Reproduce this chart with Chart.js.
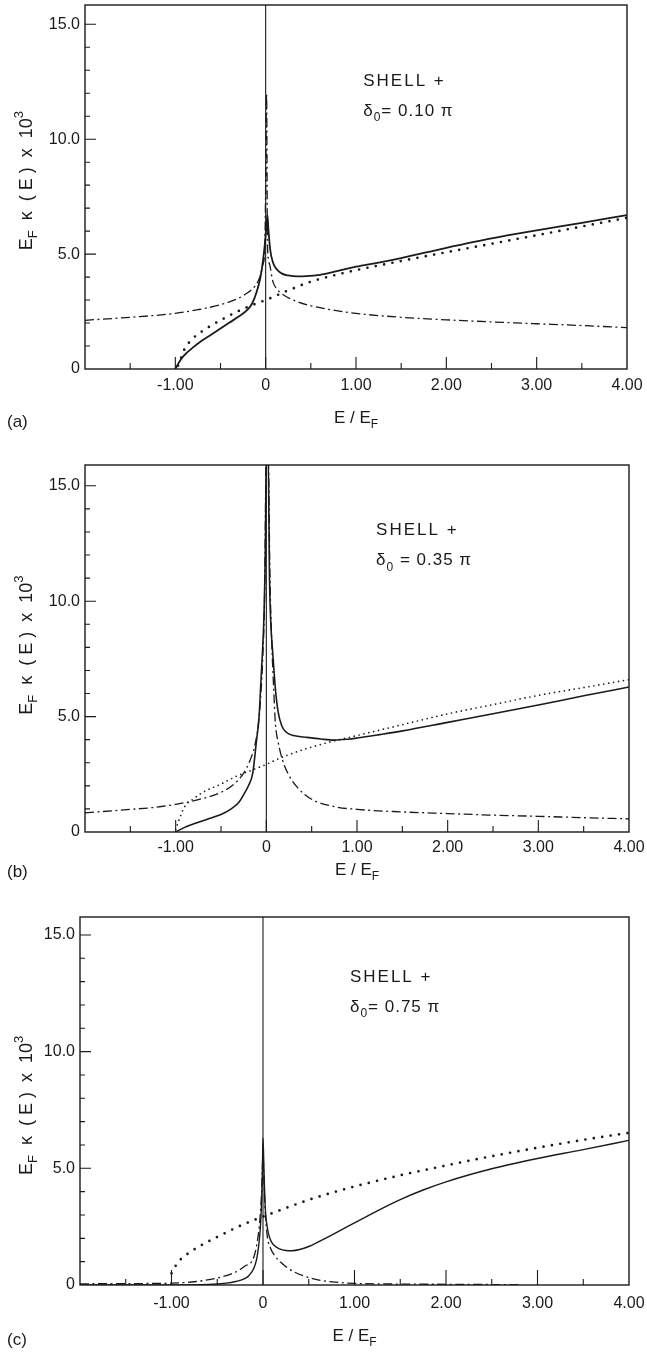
<!DOCTYPE html>
<html>
<head>
<meta charset="utf-8">
<script src="https://cdn.jsdelivr.net/npm/chart.js@4.4.1/dist/chart.umd.min.js"></script>
<style>
  html, body { margin: 0; padding: 0; background: #fff; }
  body { width: 647px; height: 1353px; position: relative; overflow: hidden; }
  .panel { position: absolute; left: 0; width: 647px; }
</style>
</head>
<body>
<div class="panel" style="top:0;height:445px"><canvas id="chartA"></canvas></div>
<div class="panel" style="top:445px;height:450px"><canvas id="chartB"></canvas></div>
<div class="panel" style="top:895px;height:458px"><canvas id="chartC"></canvas></div>
<script>
// tick labels, E/E_F from -2 to 4 and kappa from 0 to 15
const xTickLabels = ['', '-1.00', '0', '1.00', '2.00', '3.00', '4.00'];
const yTickLabels = ['0', '5.0', '10.0', '15.0'];

// vertical line at E = 0
const poleE = [0, 0];
const poleK = [0, 17];

// (a) delta0 = 0.10 pi
const solidA_E = [-1.00,-0.95,-0.90,-0.80,-0.70,-0.60,-0.50,-0.40,-0.30,-0.20,-0.15,-0.10,-0.06,-0.03,-0.01,0.01,0.02,0.03,0.05,0.08,0.12,0.18,0.25,0.35,0.45,0.60,0.80,1.00,1.25,1.50,1.75,2.00,2.50,3.00,3.50,4.00];
const solidA_K = [0.00,0.35,0.60,0.95,1.25,1.50,1.76,2.02,2.28,2.58,2.85,3.35,3.95,4.70,5.40,6.30,6.70,6.10,5.20,4.65,4.35,4.15,4.07,4.03,4.04,4.10,4.27,4.45,4.63,4.83,5.05,5.27,5.68,6.03,6.36,6.70];
const dottedA_E = [-0.97,-0.93,-0.90,-0.80,-0.70,-0.60,-0.50,-0.40,-0.30,-0.20,-0.10,0.00,0.25,0.50,0.75,1.00,1.50,2.00,2.50,3.00,3.50,4.00];
const dottedA_K = [0.15,0.55,0.85,1.35,1.65,1.90,2.12,2.33,2.52,2.70,2.86,3.00,3.42,3.80,4.07,4.30,4.70,5.08,5.45,5.82,6.20,6.58];
const dashA_E = [-2.00,-1.50,-1.00,-0.75,-0.50,-0.30,-0.20,-0.12,-0.06,-0.03,-0.01,0.00,0.01,0.02,0.04,0.08,0.12,0.20,0.35,0.50,0.75,1.00,1.50,2.00,2.50,3.00,3.50,4.00];
const dashA_K = [2.12,2.25,2.42,2.58,2.80,3.08,3.32,3.60,4.05,4.55,5.20,8.00,12.0,5.40,4.60,3.80,3.50,3.22,2.93,2.75,2.56,2.42,2.25,2.14,2.05,1.97,1.89,1.80];

// (b) delta0 = 0.35 pi
const solidB_E = [-1.00,-0.90,-0.75,-0.60,-0.50,-0.40,-0.30,-0.25,-0.20,-0.15,-0.11,-0.08,-0.06,-0.04,-0.025,-0.01,0.00,0.02,0.035,0.05,0.07,0.10,0.13,0.17,0.22,0.30,0.45,0.60,0.75,0.90,1.00,1.25,1.50,2.00,2.50,3.00,3.50,4.00];
const solidB_K = [0.00,0.20,0.42,0.62,0.76,0.97,1.30,1.62,1.98,2.55,3.90,5.00,6.50,8.00,9.50,12.5,16.5,16.5,11.0,9.00,7.80,6.20,5.20,4.60,4.32,4.18,4.10,4.03,3.98,4.02,4.07,4.22,4.38,4.75,5.12,5.50,5.90,6.28];
const dottedB_E = [-1.00,-0.97,-0.90,-0.80,-0.70,-0.50,-0.35,-0.20,-0.05,0.20,0.50,0.75,1.00,1.50,2.00,2.50,3.00,3.50,4.00];
const dottedB_K = [0.10,0.45,1.10,1.45,1.72,2.08,2.38,2.62,2.85,3.28,3.68,3.95,4.18,4.65,5.12,5.52,5.92,6.26,6.60];
const dashB_E = [-2.00,-1.50,-1.25,-1.00,-0.75,-0.50,-0.35,-0.25,-0.18,-0.13,-0.09,-0.06,-0.04,-0.02,0.00,0.02,0.04,0.06,0.08,0.10,0.13,0.18,0.25,0.35,0.50,0.75,1.00,1.50,2.00,2.50,3.00,3.50,4.00];
const dashB_K = [0.83,0.98,1.06,1.20,1.40,1.72,2.10,2.55,3.10,3.70,4.60,6.00,7.50,10.0,16.5,16.5,11.0,8.20,6.30,4.70,3.90,3.10,2.45,1.90,1.42,1.10,0.98,0.87,0.80,0.73,0.68,0.62,0.57];

// (c) delta0 = 0.75 pi
const solidC_E = [-2.00,-1.00,-0.60,-0.40,-0.30,-0.20,-0.15,-0.10,-0.07,-0.05,-0.03,-0.015,-0.005,0.00,0.01,0.025,0.05,0.08,0.12,0.18,0.25,0.32,0.40,0.50,0.60,0.75,1.00,1.25,1.50,1.75,2.00,2.50,3.00,3.50,4.00];
const solidC_K = [0.00,0.00,0.02,0.08,0.15,0.27,0.42,0.72,1.10,1.60,2.40,3.60,5.20,6.30,5.00,3.30,2.40,1.95,1.70,1.55,1.48,1.47,1.52,1.65,1.84,2.14,2.66,3.18,3.66,4.07,4.42,4.98,5.42,5.80,6.20];
const dottedC_E = [-1.00,-0.95,-0.90,-0.80,-0.70,-0.60,-0.50,-0.40,-0.30,-0.20,-0.10,0.00,0.25,0.50,0.75,1.00,1.50,2.00,2.50,3.00,3.50,4.00];
const dottedC_K = [0.50,0.85,1.10,1.40,1.65,1.86,2.06,2.25,2.45,2.62,2.78,2.93,3.30,3.65,3.95,4.22,4.70,5.12,5.52,5.88,6.22,6.52];
const dashC_E = [-2.00,-1.50,-1.00,-0.75,-0.50,-0.30,-0.20,-0.10,-0.05,-0.03,-0.015,0.00,0.015,0.03,0.05,0.08,0.12,0.20,0.30,0.45,0.60,0.80,1.00,1.50,2.00,2.50,2.80];
const dashC_K = [0.05,0.06,0.08,0.14,0.30,0.55,0.80,1.20,2.20,3.00,4.00,5.60,4.00,2.80,2.00,1.60,1.30,0.95,0.65,0.38,0.22,0.12,0.07,0.04,0.03,0.02,0.01];

const FONT = "'Liberation Sans', Arial, sans-serif";
const INK = '#1a1a1a';

function fontFor(mode, size) {
    const s = mode === 'sub' || mode === 'sup' ? Math.round(size * 0.72) : size;
    return s + 'px ' + FONT;
}

// draw a run of text pieces, some of them sub- or superscript
function drawRich(ctx, parts, x, y, size, align) {
    const widths = parts.map(([t, m]) => { ctx.font = fontFor(m, size); return ctx.measureText(t).width; });
    const total = widths.reduce((s, w) => s + w, 0);
    let cx = align === 'center' ? x - total / 2 : x;
    ctx.textAlign = 'left';
    ctx.textBaseline = 'middle';
    parts.forEach(([t, m], i) => {
        ctx.font = fontFor(m, size);
        const dy = m === 'sub' ? size * 0.38 : m === 'sup' ? -size * 0.42 : 0;
        ctx.fillText(t, cx, y + dy);
        cx += widths[i];
    });
}

// frame, inward ticks, axis titles, panel label and the note
const framePlugin = {
    id: 'frame',
    afterDatasetsDraw(chart, args, o) {
        const { ctx, chartArea: a, scales: { x, y } } = chart;
        ctx.save();
        ctx.strokeStyle = INK;
        ctx.lineWidth = 1.4;
        ctx.strokeRect(a.left, a.top, a.right - a.left, a.bottom - a.top);

        ctx.lineWidth = 1.1;
        ctx.beginPath();
        for (let v = 1; v <= Math.floor(y.max); v++) {
            const py = y.getPixelForValue(v);
            const len = v % 5 === 0 ? 11 : 5;
            ctx.moveTo(a.left, py);
            ctx.lineTo(a.left + len, py);
        }
        for (let v = x.min + 0.5; v < x.max; v += 0.5) {
            const px = x.getPixelForValue(v);
            const len = Number.isInteger(v) ? o.majorX : 6;
            ctx.moveTo(px, a.bottom);
            ctx.lineTo(px, a.bottom - len);
        }
        ctx.stroke();

        ctx.fillStyle = INK;
        // x title
        drawRich(ctx, [['E / E', ''], ['F', 'sub']], (a.left + a.right) / 2, o.xTitleY, 17, 'center');
        // y title
        ctx.save();
        ctx.translate(27, y.getPixelForValue(o.yTitleK));
        ctx.rotate(-Math.PI / 2);
        drawRich(ctx, [['E', ''], ['F', 'sub'], ['  κ  ( E )  x  10', ''], ['3', 'sup']], 0, 0, 18, 'center');
        ctx.restore();
        // panel label
        ctx.font = '17px ' + FONT;
        ctx.textAlign = 'left';
        ctx.textBaseline = 'middle';
        ctx.fillText(o.panel, 7, o.labelY);
        // note
        const nx = x.getPixelForValue(o.noteE);
        ctx.letterSpacing = '2px';
        drawRich(ctx, [[o.note1, '']], nx, y.getPixelForValue(o.note1K), 17, 'left');
        ctx.letterSpacing = '1px';
        drawRich(ctx, o.note2, nx, y.getPixelForValue(o.note2K), 17, 'left');
        ctx.restore();
    }
};

function series(E, K, style) {
    return Object.assign({
        data: E.map((e, i) => ({ x: e, y: K[i] })),
        borderColor: INK,
        pointRadius: 0,
        fill: false,
        cubicInterpolationMode: 'monotone'
    }, style);
}

const solidStyle = { borderWidth: 1.6 };
const dashDotStyle = { borderWidth: 1.3, borderDash: [9, 3.5, 2, 3.5] };
const bigDots = { borderWidth: 2.7, borderDash: [0, 8.5], borderCapStyle: 'round' };
const smallDots = { borderWidth: 1.7, borderDash: [0, 5], borderCapStyle: 'round' };
const poleStyle = { borderWidth: 1.1, cubicInterpolationMode: 'default', tension: 0 };

function makeChart(id, datasets, p) {
    return new Chart(document.getElementById(id), {
        type: 'line',
        data: { datasets },
        plugins: [framePlugin],
        options: {
            responsive: true,
            maintainAspectRatio: false,
            animation: false,
            events: [],
            layout: { padding: { top: p.padTop, right: p.padRight, left: 0, bottom: 0 } },
            plugins: { legend: { display: false }, tooltip: { enabled: false }, frame: p },
            scales: {
                x: {
                    type: 'linear', min: -2, max: 4,
                    afterFit: s => { s.height = p.xAxisH; s.paddingLeft = 0; s.paddingRight = 0; },
                    grid: { display: false, drawTicks: false, tickLength: 0 },
                    border: { display: false },
                    ticks: {
                        stepSize: 1, autoSkip: false, maxRotation: 0, padding: p.xTickPad,
                        color: INK, font: { family: FONT, size: 16 },
                        callback: v => xTickLabels[Math.round(v) + 2] ?? ''
                    }
                },
                y: {
                    type: 'linear', min: 0, max: p.kMax,
                    afterFit: s => { s.width = p.yAxisW; s.paddingTop = 0; s.paddingBottom = 0; },
                    grid: { display: false, drawTicks: false, tickLength: 0 },
                    border: { display: false },
                    ticks: {
                        stepSize: 5, includeBounds: false, padding: 5,
                        color: INK, font: { family: FONT, size: 16 },
                        callback: v => yTickLabels[Math.round(v / 5)] ?? ''
                    }
                }
            }
        }
    });
}

makeChart('chartA', [
    series(poleE, poleK, poleStyle),
    series(dashA_E, dashA_K, dashDotStyle),
    series(dottedA_E, dottedA_K, bigDots),
    series(solidA_E, solidA_K, { borderWidth: 1.8 })
], {
    panel: '(a)', padTop: 5, padRight: 20, yAxisW: 85, xAxisH: 76, xTickPad: 7, kMax: 15.84,
    xTitleY: 418, labelY: 422, yTitleK: 8.2, majorX: 12,
    noteE: 1.08, note1K: 12.5, note2K: 11.2, note1: 'SHELL +',
    note2: [['δ', ''], ['0', 'sub'], ['= 0.10 π', '']]
});

makeChart('chartB', [
    series(poleE, poleK, poleStyle),
    series(dashB_E, dashB_K, dashDotStyle),
    series(dottedB_E, dottedB_K, smallDots),
    series(solidB_E, solidB_K, solidStyle)
], {
    panel: '(b)', padTop: 20, padRight: 18, yAxisW: 85, xAxisH: 63, xTickPad: 6, kMax: 15.9,
    xTitleY: 425, labelY: 427, yTitleK: 8.1, majorX: 12,
    noteE: 1.21, note1K: 13.05, note2K: 11.75, note1: 'SHELL +',
    note2: [['δ', ''], ['0', 'sub'], [' = 0.35 π', '']]
});

makeChart('chartC', [
    series(poleE, poleK, poleStyle),
    series(dashC_E, dashC_K, dashDotStyle),
    series(dottedC_E, dottedC_K, bigDots),
    series(solidC_E, solidC_K, { borderWidth: 1.4 })
], {
    panel: '(c)', padTop: 22, padRight: 18, yAxisW: 80, xAxisH: 68, xTickPad: 9, kMax: 15.77,
    xTitleY: 441, labelY: 445, yTitleK: 7.7, majorX: 15,
    noteE: 0.95, note1K: 13.2, note2K: 11.9, note1: 'SHELL +',
    note2: [['δ', ''], ['0', 'sub'], ['= 0.75 π', '']]
});
</script>
</body>
</html>
